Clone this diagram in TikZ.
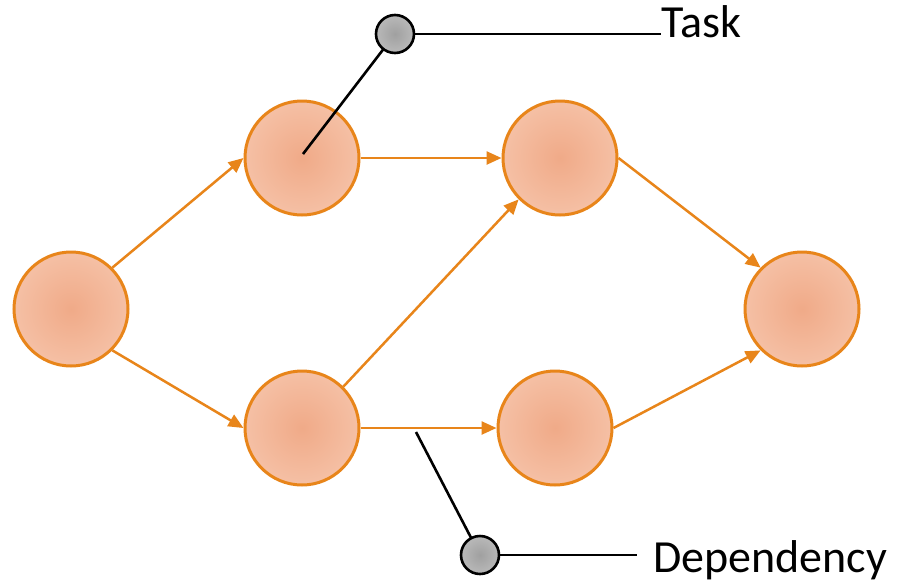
\documentclass[tikz,border=0pt]{standalone}
\usepackage{fontspec}
\setmainfont{Carlito}
\usetikzlibrary{arrows.meta}
\definecolor{taskline}{RGB}{232,133,26}
\definecolor{taskin}{RGB}{240,170,136}
\definecolor{taskout}{RGB}{245,192,165}
\definecolor{dotin}{RGB}{160,160,160}
\definecolor{dotout}{RGB}{185,185,185}
\tikzset{
  task/.style={circle, minimum size=114pt, inner sep=0pt, draw=taskline, line width=3pt,
    inner color=taskin, outer color=taskout},
  dep/.style={draw=taskline, line width=2.5pt, -{Triangle[length=15pt,width=13pt]}},
  leader/.style={draw=black, line width=2.6pt},
  pin/.style={circle, minimum size=38pt, inner sep=0pt, draw=black, line width=2.6pt,
    inner color=dotin, outer color=dotout},
  caption/.style={anchor=base west, inner sep=0pt, font=\fontsize{46}{52}\selectfont}
}
\begin{document}
\begin{tikzpicture}[x=1pt, y=-1pt]
  \useasboundingbox (0,0) rectangle (899,587);
  \fill[white] (0,0) rectangle (899,587);

  % activity nodes
  \node[task] (start) at (71,309) {};
  \node[task] (up1)   at (302,158) {};
  \node[task] (up2)   at (560,158) {};
  \node[task] (lo1)   at (302,428) {};
  \node[task] (lo2)   at (555,428) {};
  \node[task] (end)   at (802,309) {};

  % dependencies, between fixed connection points of the circles
  \draw[dep] (start.north east) -- (up1.west);
  \draw[dep] (start.south east) -- (lo1.west);
  \draw[dep] (up1.east) -- (up2.west);
  \draw[dep] (lo1.north east) -- (up2.south west);
  \draw[dep] (lo1.east) -- (lo2.west);
  \draw[dep] (up2.east) -- (end.north west);
  \draw[dep] (lo2.east) -- (end.south west);

  % legend labels
  \node[caption] (tasklbl) at (661,37) {Task};
  \node[caption] (deplbl)  at (653,572) {Dependency};

  % legend leaders
  \coordinate (taskpin) at (303,154);
  \coordinate (deppin)  at (416,432);
  \coordinate (taskdotpos) at (395,34);
  \coordinate (depdotpos)  at (480,555);
  \draw[leader] (taskpin) -- (taskdotpos);
  \draw[leader] (taskdotpos) -- (taskdotpos -| tasklbl.west);
  \draw[leader] (deppin) -- (depdotpos);
  \draw[leader] (depdotpos) -- ([xshift=-16pt]depdotpos -| deplbl.west);
  \node[pin] (taskdot) at (taskdotpos) {};
  \node[pin] (depdot)  at (depdotpos) {};
\end{tikzpicture}
\end{document}
